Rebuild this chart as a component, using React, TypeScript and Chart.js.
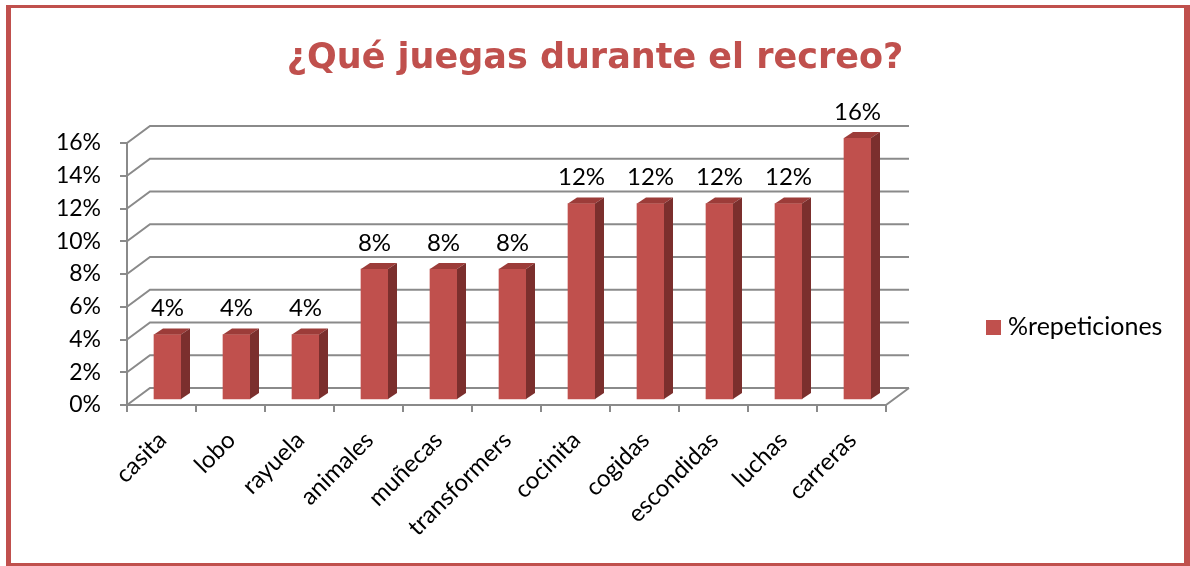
import React, { useEffect, useRef } from "react";
import { Chart, registerables } from "chart.js";

Chart.register(...registerables);

const categories = [
  "casita",
  "lobo",
  "rayuela",
  "animales",
  "muñecas",
  "transformers",
  "cocinita",
  "cogidas",
  "escondidas",
  "luchas",
  "carreras",
];
const repeticiones = [4, 4, 4, 8, 8, 8, 12, 12, 12, 12, 16];
const seriesLabel = "%repeticiones";
const titleText = "¿Qué juegas durante el recreo?";
const yTicks = [0, 2, 4, 6, 8, 10, 12, 14, 16];

const FRONT = "#C0504D";
const TOP = "#9C3C39";
const SIDE = "#7B2F2D";
const GRID = "#8A8A8A";
const FONT = "Lato, 'Open Sans', sans-serif";

const WALL_DX = 23;
const WALL_DY = 17;
const BAR_SHIFT_X = 6;
const BAR_SHIFT_Y = 5;
const BAR_DX = 9;
const BAR_DY = 6;

const threeD = {
  id: "threeD",
  beforeDatasetsDraw(chart: any) {
    const { ctx, chartArea } = chart;
    const { left, right } = chartArea;
    const y = chart.scales.y;
    ctx.save();
    ctx.strokeStyle = GRID;
    ctx.lineWidth = 2;
    ctx.beginPath();
    for (const v of yTicks) {
      const py = y.getPixelForValue(v);
      ctx.moveTo(left, py);
      ctx.lineTo(left + WALL_DX, py - WALL_DY);
      ctx.lineTo(right + WALL_DX, py - WALL_DY);
    }
    const p0 = y.getPixelForValue(0);
    ctx.moveTo(right, p0);
    ctx.lineTo(right + WALL_DX, p0 - WALL_DY);
    ctx.stroke();
    ctx.restore();
    ctx.save();
    ctx.translate(BAR_SHIFT_X, -BAR_SHIFT_Y);
  },
  afterDatasetsDraw(chart: any) {
    const ctx = chart.ctx;
    const meta = chart.getDatasetMeta(0);
    const labels: { x: number; y: number; t: string }[] = [];
    meta.data.forEach((bar: any, i: number) => {
      const { x, y, base, width } = bar.getProps(["x", "y", "base", "width"], true);
      const x0 = x - width / 2;
      const x1 = x + width / 2;
      ctx.fillStyle = TOP;
      ctx.beginPath();
      ctx.moveTo(x0, y);
      ctx.lineTo(x1, y);
      ctx.lineTo(x1 + BAR_DX, y - BAR_DY);
      ctx.lineTo(x0 + BAR_DX, y - BAR_DY);
      ctx.closePath();
      ctx.fill();
      ctx.fillStyle = SIDE;
      ctx.beginPath();
      ctx.moveTo(x1, y);
      ctx.lineTo(x1 + BAR_DX, y - BAR_DY);
      ctx.lineTo(x1 + BAR_DX, base - BAR_DY);
      ctx.lineTo(x1, base);
      ctx.closePath();
      ctx.fill();
      labels.push({
        x: x + BAR_SHIFT_X,
        y: y - BAR_SHIFT_Y - 26,
        t: chart.data.datasets[0].data[i] + "%",
      });
    });
    ctx.restore();
    ctx.save();
    ctx.fillStyle = "#000";
    ctx.font = `24px ${FONT}`;
    ctx.textAlign = "center";
    ctx.textBaseline = "middle";
    labels.forEach((l) => ctx.fillText(l.t, l.x, l.y));
    ctx.restore();
  },
  afterDraw(chart: any) {
    const { ctx, chartArea } = chart;
    const ds = chart.data.datasets[0];
    const lx = chartArea.right + 100;
    const ly = 327;
    ctx.save();
    ctx.fillStyle = ds.backgroundColor;
    ctx.fillRect(lx, ly - 7, 15, 15);
    ctx.fillStyle = "#000";
    ctx.font = `25px ${FONT}`;
    ctx.textAlign = "left";
    ctx.textBaseline = "middle";
    ctx.fillText(ds.label, lx + 22, ly);
    ctx.restore();
  },
};

export default function App() {
  const ref = useRef<HTMLCanvasElement | null>(null);

  useEffect(() => {
    if (!ref.current) return;
    const chart = new Chart(ref.current, {
      type: "bar",
      data: {
        labels: categories,
        datasets: [
          {
            label: seriesLabel,
            data: repeticiones,
            backgroundColor: FRONT,
            borderWidth: 0,
            barThickness: 27,
          },
        ],
      },
      options: {
        responsive: false,
        animation: false,
        layout: { padding: { left: 0, right: 0, top: 0, bottom: 0 } },
        plugins: {
          legend: { display: false },
          tooltip: { enabled: false },
          title: {
            display: true,
            text: titleText,
            color: FRONT,
            font: { family: "'DejaVu Sans', sans-serif", size: 35, weight: "bold" },
            padding: { top: 38, bottom: 63 },
          },
        },
        scales: {
          x: {
            grid: {
              drawOnChartArea: false,
              drawTicks: true,
              tickLength: 7,
              color: GRID,
              lineWidth: 2,
              offset: true,
            },
            border: { display: true, color: GRID, width: 2 },
            ticks: {
              autoSkip: false,
              minRotation: 45,
              maxRotation: 45,
              padding: 14,
              labelOffset: 1,
              color: "#000",
              font: { family: FONT, size: 24 },
            },
            afterFit: (s: any) => {
              s.height = 161;
            },
          },
          y: {
            min: 0,
            max: 16,
            ticks: {
              stepSize: 2,
              callback: (v: any) => v + "%",
              padding: 19,
              color: "#000",
              font: { family: FONT, size: 23 },
            },
            grid: {
              drawOnChartArea: false,
              drawTicks: true,
              tickLength: 7,
              color: GRID,
              lineWidth: 2,
            },
            border: { display: true, color: GRID, width: 2 },
            afterFit: (s: any) => {
              s.width = 127;
            },
          },
          legendSpace: {
            type: "linear",
            position: "right",
            display: true,
            grid: { display: false },
            border: { display: false },
            ticks: { display: false },
            afterFit: (s: any) => {
              s.width = 304;
            },
          },
        },
      } as any,
      plugins: [threeD],
    });
    return () => chart.destroy();
  }, []);

  return (
    <div style={{ position: "fixed", left: 0, top: 0, width: 1190, height: 566, background: "#fff" }}>
      <canvas ref={ref} width={1190} height={566} style={{ display: "block" }} />
      <div
        style={{
          position: "absolute",
          left: 6,
          top: 5,
          width: 1184,
          height: 561,
          boxSizing: "border-box",
          borderStyle: "solid",
          borderColor: FRONT,
          borderLeftWidth: 5,
          borderTopWidth: 3,
          borderRightWidth: 6,
          borderBottomWidth: 3,
          pointerEvents: "none",
        }}
      />
    </div>
  );
}
